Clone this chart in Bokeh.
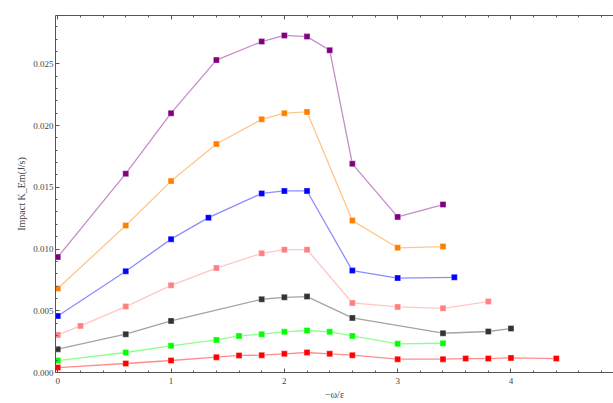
from bokeh.plotting import figure
from bokeh.models import Range1d, LinearAxis, SingleIntervalTicker, NumeralTickFormatter, CustomJSTickFormatter
from bokeh.embed import file_html
from bokeh.resources import INLINE

# ---- data ----
x_purple = [0, 0.6, 1.0, 1.4, 1.8, 2.0, 2.2, 2.4, 2.6, 3.0, 3.4]
y_purple = [0.00935, 0.0161, 0.0210, 0.0253, 0.0268, 0.0273, 0.0272, 0.0261, 0.0169, 0.0126, 0.0136]

x_orange = [0, 0.6, 1.0, 1.4, 1.8, 2.0, 2.2, 2.6, 3.0, 3.4]
y_orange = [0.0068, 0.0119, 0.0155, 0.0185, 0.0205, 0.0210, 0.0211, 0.0123, 0.0101, 0.0102]

x_blue = [0, 0.6, 1.0, 1.33, 1.8, 2.0, 2.2, 2.6, 3.0, 3.5]
y_blue = [0.00458, 0.0082, 0.0108, 0.01254, 0.0145, 0.0147, 0.0147, 0.00825, 0.00765, 0.00771]

x_pink = [0, 0.2, 0.6, 1.0, 1.4, 1.8, 2.0, 2.2, 2.6, 3.0, 3.4, 3.8]
y_pink = [0.00304, 0.00377, 0.00534, 0.00706, 0.00846, 0.00965, 0.00995, 0.00995, 0.00563, 0.00531, 0.0052, 0.00574]

x_black = [0, 0.6, 1.0, 1.8, 2.0, 2.2, 2.6, 3.4, 3.8, 4.0]
y_black = [0.00189, 0.0031, 0.00418, 0.00593, 0.00609, 0.00615, 0.00442, 0.00318, 0.00332, 0.00356]

x_green = [0, 0.6, 1.0, 1.4, 1.6, 1.8, 2.0, 2.2, 2.4, 2.6, 3.0, 3.4]
y_green = [0.00097, 0.00162, 0.00216, 0.00264, 0.00296, 0.0031, 0.00329, 0.0034, 0.00329, 0.00296, 0.00232, 0.00237]

x_red = [0, 0.6, 1.0, 1.4, 1.6, 1.8, 2.0, 2.2, 2.4, 2.6, 3.0, 3.4, 3.6, 3.8, 4.0, 4.4]
y_red = [0.0004, 0.00073, 0.00097, 0.00124, 0.00138, 0.0014, 0.00151, 0.00162, 0.00151, 0.0014, 0.00108, 0.00108, 0.00113, 0.00113, 0.00118, 0.00113]

series = [
    (x_purple, y_purple, "#800080"),
    (x_orange, y_orange, "#FF8000"),
    (x_blue, y_blue, "#0000FF"),
    (x_pink, y_pink, "#FF8080"),
    (x_black, y_black, "#333333"),
    (x_green, y_green, "#00FF00"),
    (x_red, y_red, "#FF0000"),
]

x_label = "\u2212\u03c9/\u03b5"
y_label = "Impact K_Em(J/s)"

FONT = "Liberation Serif"
AXIS_COLOR = "#555555"
LABEL_COLOR = "#444444"

p = figure(width=613, height=403, output_backend="svg", toolbar_location=None,
           x_range=Range1d(-0.02, 4.905), y_range=Range1d(0, 0.02891),
           min_border_left=55, min_border_right=0, min_border_top=15, min_border_bottom=31,
           x_axis_location="below", y_axis_location="left")
p.outline_line_color = None
p.xgrid.visible = False
p.ygrid.visible = False
p.background_fill_color = "white"
p.border_fill_color = "white"

for xs, ys, c in series:
    p.line(xs, ys, line_color=c, line_alpha=0.45, line_width=1.3)
    p.scatter(xs, ys, marker="square", size=6, fill_color=c, line_color="white", line_alpha=0.6, line_width=0.6)

xt = SingleIntervalTicker(interval=1, num_minor_ticks=5)
yt = SingleIntervalTicker(interval=0.005, num_minor_ticks=5)

xa = p.xaxis[0]
xa.ticker = xt
xa.axis_label = x_label
xa.axis_label_text_font = FONT
xa.axis_label_text_font_style = "normal"
xa.axis_label_text_font_size = "10px"
xa.axis_label_text_color = LABEL_COLOR
xa.axis_label_standoff = 2
xa.major_label_text_font = FONT
xa.major_label_text_font_size = "9px"
xa.major_label_text_color = LABEL_COLOR
xa.major_label_standoff = 5

ya = p.yaxis[0]
ya.ticker = yt
ya.formatter = NumeralTickFormatter(format="0.000")
ya.axis_label = y_label
ya.axis_label_text_font = FONT
ya.axis_label_text_font_style = "normal"
ya.axis_label_text_font_size = "10px"
ya.axis_label_text_color = LABEL_COLOR
ya.axis_label_standoff = 3
ya.major_label_text_font = FONT
ya.major_label_text_font_size = "9px"
ya.major_label_text_color = LABEL_COLOR
ya.major_label_standoff = 2

for ax in (xa, ya):
    ax.axis_line_color = AXIS_COLOR
    ax.major_tick_line_color = AXIS_COLOR
    ax.minor_tick_line_color = AXIS_COLOR
    ax.major_tick_in = 4
    ax.major_tick_out = 0
    ax.minor_tick_in = 2
    ax.minor_tick_out = 0

top = LinearAxis(ticker=SingleIntervalTicker(interval=1, num_minor_ticks=5),
                 formatter=CustomJSTickFormatter(code="return '';"))
top.major_label_standoff = 0
top.axis_line_color = AXIS_COLOR
top.major_tick_line_color = AXIS_COLOR
top.minor_tick_line_color = AXIS_COLOR
top.major_tick_in = 4
top.major_tick_out = 0
top.minor_tick_in = 2
top.minor_tick_out = 0
p.add_layout(top, "above")

open("out.html", "w").write(file_html(p, INLINE))
